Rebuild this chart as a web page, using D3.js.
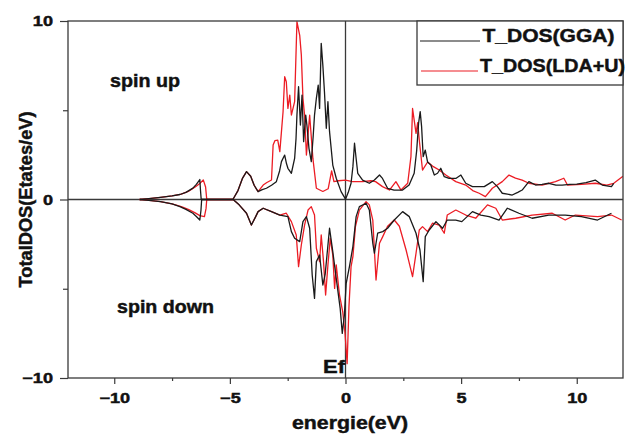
<!DOCTYPE html>
<html>
<head>
<meta charset="utf-8">
<script src="https://cdn.jsdelivr.net/npm/d3@7"></script>
<style>
  html, body { margin: 0; padding: 0; background: #fff; }
  svg { display: block; }
  text { font-family: "Liberation Sans", Arial, sans-serif; font-weight: bold; fill: #111; stroke: #111; stroke-width: 0.45px; }
</style>
</head>
<body>
<svg id="chart" width="627" height="436"></svg>
<script>
// Total density of states, energy in eV relative to the Fermi level.
// Each series is a list of [energy, DOS] pairs; spin down is stored as negative DOS.
const ggaUp = [
  [-8.9,0],[-8.5,0.05],[-8.0,0.12],[-7.5,0.2],[-7.16,0.28],[-6.9,0.4],[-6.6,0.64],[-6.45,0.85],[-6.3,1.12],[-6.27,0.5],[-6.24,0],
  [-4.87,0],[-4.65,0.5],[-4.45,1.2],[-4.28,1.56],[-4.1,1.3],[-3.95,0.8],[-3.78,0.44],[-3.6,0.55],[-3.42,0.63],[-3.2,0.8],[-2.99,1.0],
  [-2.85,1.6],[-2.77,2.12],[-2.63,2.49],[-2.55,2.0],[-2.49,1.75],[-2.34,1.47],[-2.2,2.3],[-2.14,3.4],[-2.1,4.73],[-2.03,6.32],
  [-1.95,4.17],[-1.88,5.85],[-1.81,3.24],[-1.72,4.73],[-1.67,4.17],[-1.58,2.87],[-1.48,2.12],[-1.4,3.5],[-1.34,4.73],[-1.26,5.67],
  [-1.18,6.41],[-1.12,5.1],[-1.05,8.75],[-0.98,7.53],[-0.91,6.04],[-0.83,3.99],[-0.76,5.48],[-0.69,3.8],[-0.55,1.93],[-0.4,1.19],
  [-0.19,0.44],[0.0,0.02],[0.12,0.4],[0.24,0.91],[0.32,1.84],[0.39,3.15],[0.46,2.3],[0.53,1.47],[0.74,1.09],[1.03,0.91],[1.25,1.09],
  [1.47,1.37],[1.6,1.18],[1.82,0.63],[2.1,0.53],[2.47,0.53],[2.75,0.81],[2.97,1.47],[3.08,2.77],[3.16,4.27],[3.23,4.92],[3.29,4.1],
  [3.36,2.4],[3.45,2.77],[3.55,2.1],[3.69,1.93],[3.84,1.37],[3.98,1.47],[4.12,1.75],[4.27,1.28],[4.48,1.18],[4.77,1.18],[4.99,1.37],
  [5.2,0.91],[5.49,0.72],[5.78,0.72],[6.0,0.72],[6.35,1.0],[6.57,0.72],[6.78,0.35],[7.0,0.3],[7.21,0.25],[7.45,0.4],[7.64,0.53],
  [7.93,1.0],[8.22,0.81],[8.5,0.85],[8.79,0.91],[9.1,0.8],[9.37,0.81],[9.7,0.85],[10.0,0.86],[10.4,0.95],[10.8,1.09],[11.1,0.81],
  [11.5,0.72],[11.6,0.9]
];
const ggaDown = [
  [-8.9,0],[-8.5,-0.05],[-8.0,-0.12],[-7.5,-0.25],[-7.16,-0.4],[-6.9,-0.55],[-6.6,-0.77],[-6.45,-0.95],[-6.3,-1.15],[-6.25,-0.6],[-6.22,0],
  [-4.86,0],[-4.6,-0.3],[-4.28,-0.77],[-4.07,-1.43],[-3.9,-1.0],[-3.78,-0.68],[-3.56,-0.49],[-3.2,-0.68],[-2.84,-0.87],[-2.49,-0.96],
  [-2.34,-1.8],[-2.2,-2.17],[-1.98,-2.36],[-1.84,-1.24],[-1.69,-0.96],[-1.55,-1.61],[-1.44,-4.23],[-1.34,-5.54],[-1.26,-3.48],
  [-1.12,-3.11],[-0.98,-4.79],[-0.88,-4.2],[-0.69,-1.61],[-0.55,-2.92],[-0.4,-4.42],[-0.23,-6.1],[-0.14,-7.5],[-0.05,-6.5],[0.03,-4.7],
  [0.17,-3.76],[0.32,-2.64],[0.46,-0.96],[0.6,-0.4],[0.89,-0.21],[1.03,-0.59],[1.18,-2.45],[1.25,-3.01],[1.39,-1.89],[1.61,-1.8],
  [1.82,-1.61],[2.11,-1.15],[2.47,-0.68],[2.76,-0.96],[3.05,-1.89],[3.22,-2.83],[3.36,-4.6],[3.45,-2.08],[3.62,-1.71],[3.91,-1.24],
  [4.2,-1.61],[4.4,-1.15],[4.77,-1.15],[5.03,-1.24],[5.49,-0.68],[5.85,-0.87],[6.21,-0.96],[6.64,-1.15],[7.0,-0.49],[7.5,-0.77],
  [8.07,-1.05],[8.79,-0.87],[9.5,-0.87],[10.2,-0.96],[10.9,-1.15],[11.5,-0.77]
];
const ldaUp = [
  [-8.9,0],[-8.5,0.05],[-8.0,0.12],[-7.5,0.2],[-7.1,0.3],[-6.8,0.45],[-6.5,0.7],[-6.3,0.9],[-6.15,1.1],[-6.05,0.7],[-6.0,0],
  [-4.87,0],[-4.65,0.5],[-4.45,1.2],[-4.28,1.56],[-4.1,1.3],[-3.95,0.8],[-3.78,0.44],[-3.56,0.81],[-3.4,0.95],[-3.2,1.09],[-3.13,3.05],
  [-3.05,3.3],[-2.93,3.33],[-2.84,2.68],[-2.7,4.92],[-2.63,6.88],[-2.56,6.6],[-2.49,5.1],[-2.41,5.85],[-2.34,4.73],[-2.2,5.48],
  [-2.1,9.96],[-1.98,9.2],[-1.91,8.1],[-1.84,5.67],[-1.77,4.73],[-1.69,2.49],[-1.55,4.73],[-1.41,2.3],[-1.26,0.63],[-0.98,0.45],
  [-0.75,0.6],[-0.6,1.6],[-0.5,1.0],[-0.3,1.05],[0.0,1.09],[0.3,1.0],[0.74,1.0],[1.1,1.05],[1.3,1.0],[1.6,0.72],[1.9,0.53],[2.18,1.0],
  [2.4,0.53],[2.69,0.91],[2.83,2.4],[2.9,5.1],[2.97,4.45],[3.05,3.7],[3.12,4.3],[3.19,3.33],[3.33,1.65],[3.55,2.1],[3.8,1.84],
  [4.05,1.65],[4.34,1.37],[4.77,1.0],[5.2,0.81],[5.5,0.5],[5.78,0.35],[6.05,0.16],[6.35,0.63],[6.78,1.0],[7.07,1.37],[7.35,1.2],
  [7.64,1.09],[7.93,0.91],[8.5,0.81],[9.08,1.0],[9.44,1.19],[9.6,0.81],[10.2,0.85],[10.8,0.91],[11.3,0.81],[11.6,0.91],[12.0,1.3]
];
const ldaDown = [
  [-8.9,0],[-8.5,-0.05],[-8.0,-0.12],[-7.5,-0.25],[-7.1,-0.4],[-6.8,-0.55],[-6.5,-0.75],[-6.3,-0.9],[-6.1,-0.96],[-6.03,-0.5],[-6.0,0],
  [-4.86,0],[-4.6,-0.3],[-4.28,-0.77],[-4.07,-1.43],[-3.9,-1.0],[-3.78,-0.68],[-3.56,-0.49],[-3.2,-0.68],[-2.84,-0.87],[-2.56,-0.77],
  [-2.34,-1.24],[-2.13,-1.99],[-2.03,-3.76],[-1.91,-2.55],[-1.77,-1.43],[-1.62,-0.59],[-1.48,-0.4],[-1.34,-0.87],[-1.26,-2.73],
  [-1.12,-3.48],[-1.05,-1.99],[-0.95,-3.48],[-0.86,-5.35],[-0.76,-3.67],[-0.66,-2.17],[-0.55,-3.11],[-0.47,-4.98],[-0.4,-3.67],
  [-0.26,-5.35],[-0.12,-6.29],[-0.02,-7.5],[0.07,-9.2],[0.15,-6.0],[0.24,-3.76],[0.32,-3.2],[0.43,-1.52],[0.6,-0.59],[0.89,-0.12],
  [1.03,-0.3],[1.18,-1.15],[1.32,-4.51],[1.47,-2.45],[1.61,-2.08],[1.82,-1.5],[2.11,-1.15],[2.33,-1.5],[2.62,-2.83],[2.9,-4.32],
  [3.05,-3.01],[3.19,-1.71],[3.33,-1.52],[3.55,-1.8],[3.76,-1.33],[4.05,-1.43],[4.27,-1.89],[4.4,-0.87],[4.77,-0.59],[5.2,-0.87],
  [5.63,-1.05],[6.14,-0.3],[6.5,-0.49],[6.78,-1.15],[7.36,-1.05],[8.07,-0.87],[8.94,-0.77],[9.5,-1.15],[9.94,-0.87],[10.9,-0.96],
  [11.5,-0.87],[11.94,-1.15]
];

const xTicks = [-10, -5, 0, 5, 10];
const xMinorTicks = [-7.5, -2.5, 2.5, 7.5];
const yTicks = [-10, 0, 10];
const yMinorTicks = [-5, 5];
const legendLabels = ["T_DOS(GGA)", "T_DOS(LDA+U)"];
const seriesColors = ["#1a1a1a", "#ec1c24"];

const svg = d3.select("#chart");
const margin = { top: 21, right: 4, bottom: 58, left: 68 };
const W = 627, H = 436;
const x = d3.scaleLinear().domain([-12, 12]).range([margin.left, W - margin.right]);
const y = d3.scaleLinear().domain([-10, 10]).range([H - margin.bottom, margin.top]);
const axisColor = "#3a3a3a";

// stretch a text element to a given width
function fitWidth(sel, width) {
  sel.attr("textLength", width).attr("lengthAdjust", "spacingAndGlyphs");
}
function widen(sel, factor) {
  sel.each(function () {
    const w = this.getComputedTextLength();
    this.setAttribute("textLength", w * factor);
    this.setAttribute("lengthAdjust", "spacingAndGlyphs");
  });
}

// clip for the data lines
svg.append("clipPath").attr("id", "plot-clip")
  .append("rect")
  .attr("x", x(-12)).attr("y", y(10))
  .attr("width", x(12) - x(-12)).attr("height", y(-10) - y(10));

// reference lines: zero DOS and Fermi level
svg.append("line")
  .attr("x1", x(-12)).attr("x2", x(12)).attr("y1", y(0)).attr("y2", y(0))
  .attr("stroke", axisColor).attr("stroke-width", 1.3);
svg.append("line")
  .attr("x1", x(0)).attr("x2", x(0)).attr("y1", y(10)).attr("y2", y(-10))
  .attr("stroke", axisColor).attr("stroke-width", 1.3);

// DOS curves
const line = d3.line().x(d => x(d[0])).y(d => y(d[1])).curve(d3.curveLinear);
const plot = svg.append("g").attr("clip-path", "url(#plot-clip)");
[[ggaUp, 0], [ggaDown, 0], [ldaUp, 1], [ldaDown, 1]]
  .sort((a, b) => b[1] - a[1])
  .forEach(([data, k]) => {
    plot.append("path")
      .datum(data)
      .attr("d", line)
      .attr("fill", "none")
      .attr("stroke", seriesColors[k])
      .attr("stroke-width", 1.3)
      .attr("stroke-linejoin", "round");
  });

// frame
svg.append("rect")
  .attr("x", x(-12)).attr("y", y(10))
  .attr("width", x(12) - x(-12)).attr("height", y(-10) - y(10))
  .attr("fill", "none").attr("stroke", axisColor).attr("stroke-width", 1.3);

// x axis
svg.append("g")
  .attr("transform", `translate(0,${y(-10)})`)
  .call(d3.axisBottom(x).tickValues(xTicks).tickSize(6).tickPadding(9).tickFormat(d3.format("d")));
svg.append("g")
  .attr("transform", `translate(0,${y(-10)})`)
  .call(d3.axisBottom(x).tickValues(xMinorTicks).tickSize(3).tickFormat(""));

// y axis
svg.append("g")
  .attr("transform", `translate(${x(-12)},0)`)
  .call(d3.axisLeft(y).tickValues(yTicks).tickSize(8).tickPadding(7).tickFormat(d3.format("d")));
svg.append("g")
  .attr("transform", `translate(${x(-12)},0)`)
  .call(d3.axisLeft(y).tickValues(yMinorTicks).tickSize(5).tickFormat(""));

svg.selectAll(".domain").remove();
svg.selectAll(".tick line").attr("stroke", axisColor).attr("stroke-width", 1.2);
svg.selectAll(".tick text")
  .attr("font-family", "Liberation Sans, Arial, sans-serif")
  .attr("font-weight", "bold")
  .attr("font-size", 14.5)
  .attr("fill", "#111");
widen(svg.selectAll(".tick text"), 1.25);

// axis titles
fitWidth(svg.append("text")
  .attr("x", 350).attr("y", 429)
  .attr("text-anchor", "middle")
  .attr("font-size", 18.5)
  .text("energie(eV)"), 116);

fitWidth(svg.append("text")
  .attr("transform", `translate(32,${y(0)}) rotate(-90)`)
  .attr("text-anchor", "middle")
  .attr("font-size", 18)
  .text("TotalDOS(Etates/eV)"), 176);

// annotations
fitWidth(svg.append("text").attr("x", 110).attr("y", 87).attr("font-size", 18).text("spin up"), 70);
fitWidth(svg.append("text").attr("x", 117).attr("y", 313).attr("font-size", 18).text("spin down"), 97);
fitWidth(svg.append("text").attr("x", 323).attr("y", 372.5).attr("font-size", 18.5).text("Ef"), 22);

// legend
const lg = svg.append("g");
lg.append("rect")
  .attr("x", 417).attr("y", y(10))
  .attr("width", x(12) - 417).attr("height", 64)
  .attr("fill", "#fff").attr("stroke", axisColor).attr("stroke-width", 1.3);
const legendRows = [
  { y: 41, x1: 420, x2: 480, tx: 482.5, tw: 132 },
  { y: 71, x1: 421, x2: 478, tx: 480, tw: 145 }
];
legendRows.forEach((r, i) => {
  lg.append("line")
    .attr("x1", r.x1).attr("x2", r.x2).attr("y1", r.y).attr("y2", r.y)
    .attr("stroke", seriesColors[i]).attr("stroke-width", 1.2);
  fitWidth(lg.append("text")
    .attr("x", r.tx).attr("y", r.y + 1)
    .attr("font-size", 18.5)
    .text(legendLabels[i]), r.tw);
});
</script>
</body>
</html>
